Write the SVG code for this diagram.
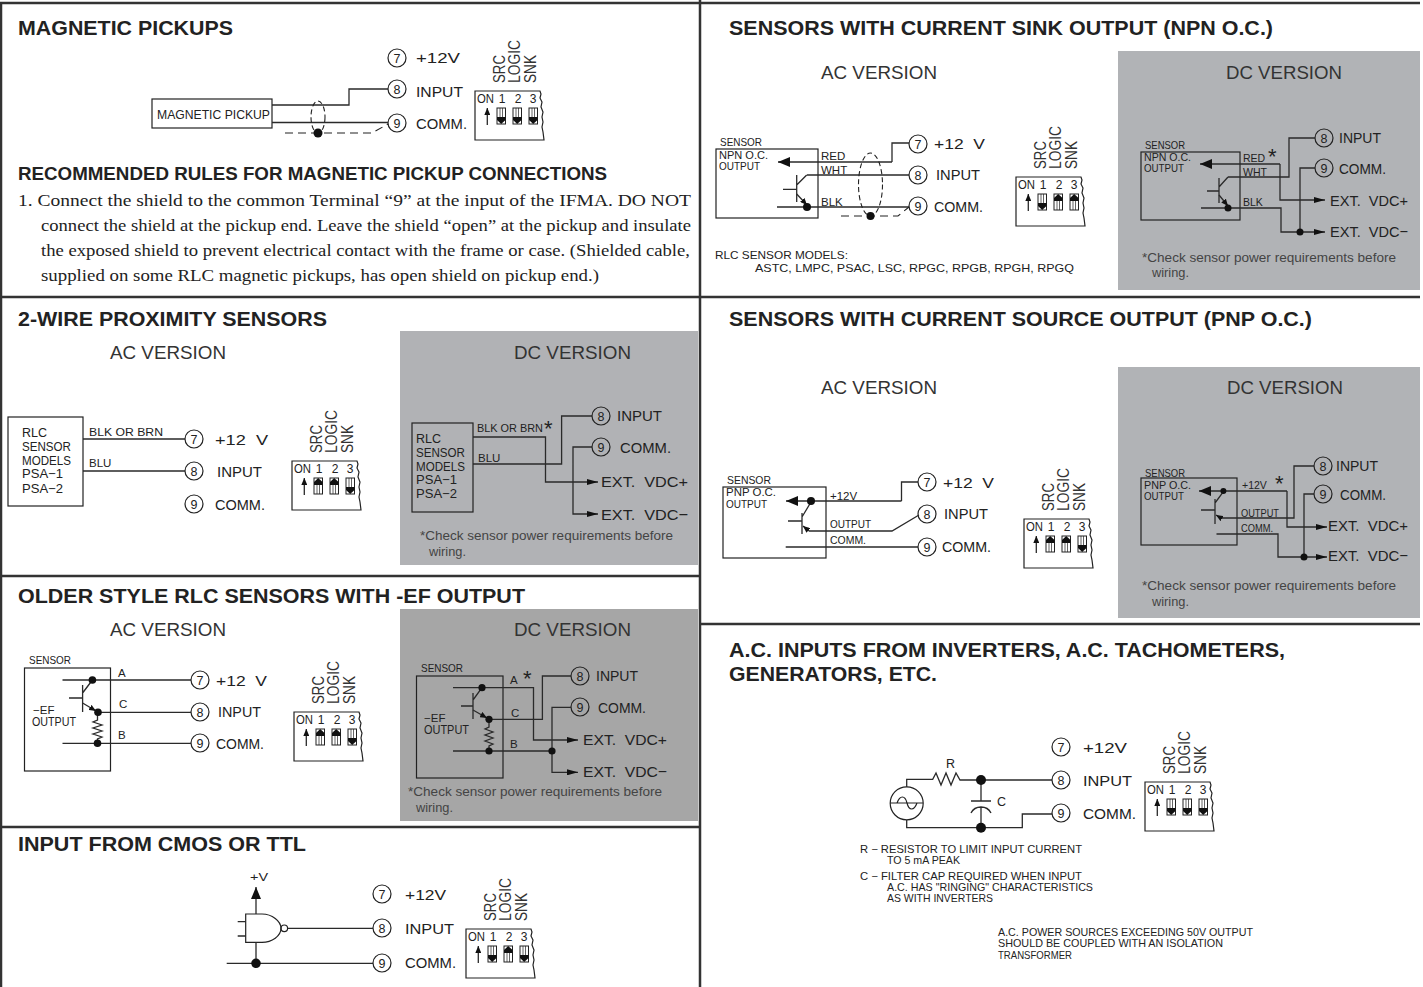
<svg xmlns="http://www.w3.org/2000/svg" width="1423" height="987" viewBox="0 0 1423 987">
<style>
text{font-family:"Liberation Sans",Arial,sans-serif;fill:#222}
.h{font-size:20px;font-weight:bold}
.h2{font-size:17.5px;font-weight:bold}
.b{font-family:"Liberation Serif","Times New Roman",serif;font-size:16.5px}
.v{font-size:18.5px;fill:#333}
.t{font-size:15.5px}
.m{font-size:12.5px}
.s{font-size:11.5px}
.x{font-size:10.5px}
.note{font-size:13px;fill:#444}
.n{font-size:12.5px;text-anchor:middle}
.d{font-size:12px}
.c{font-size:12px;text-anchor:middle}
.r{font-size:16.5px;fill:#333}
.st{font-size:22px}
.line{stroke:#333;stroke-width:2.5;fill:none}
.box{fill:none;stroke:#222;stroke-width:1.2}
.w{fill:none;stroke:#2a2a2a;stroke-width:1.3}
.dash{fill:none;stroke:#222;stroke-width:1.1;stroke-dasharray:8 5}
.dash2{fill:none;stroke:#222;stroke-width:1.1;stroke-dasharray:5 3}
.dot{fill:#111}
.tc{fill:#fff;stroke:#222;stroke-width:1.2}
.gc{fill:#b1b2b5;stroke:#222;stroke-width:1.2}
.gd{fill:#a6a6a6;stroke:#222;stroke-width:1.2}
</style>
<defs>
<marker id="ah" viewBox="0 0 11 6" refX="11" refY="3" markerWidth="11" markerHeight="6" markerUnits="userSpaceOnUse" orient="auto"><path d="M0 0L11 3L0 6Z" fill="#111"/></marker>
<marker id="ahl" viewBox="0 0 12 10" refX="12" refY="5" markerWidth="12" markerHeight="10" markerUnits="userSpaceOnUse" orient="auto"><path d="M0 0L12 5L0 10Z" fill="#111"/></marker>
<marker id="ahs" viewBox="0 0 7 6" refX="7" refY="3" markerWidth="7" markerHeight="6" markerUnits="userSpaceOnUse" orient="auto"><path d="M0 0L7 3L0 6Z" fill="#111"/></marker>
<g id="dip">
<path class="box" d="M0 0H65l1 3-1 4 2 4-1 5 2 5-1 5 1 5-1 5 1 5 1 8H0Z"/>
<path class="w" d="M12.3 34V17" marker-end="url(#ahs)"/>
</g>
<g id="sd"><rect width="8.5" height="16" fill="#fff" stroke="#222"/><path d="M3 0V9M5.5 0V9" stroke="#222" stroke-width=".7"/><path d="M0 9H8.5V12L4.2 16L0 12Z" fill="#111"/></g>
<g id="su"><rect width="8.5" height="16" fill="#fff" stroke="#222"/><path d="M3 7V16M5.5 7V16" stroke="#222" stroke-width=".7"/><path d="M4.2 0L8.5 4V7H0V4Z" fill="#111"/></g>
</defs>
<rect width="1423" height="987" fill="#fff"/>
<g id="frame">
<rect x="400" y="331" width="298" height="234" fill="#b1b2b5"/>
<rect x="400" y="609" width="298" height="212" fill="#a6a6a6"/>
<rect x="1118" y="51" width="302" height="239" fill="#b1b3b6"/>
<rect x="1118" y="367" width="302" height="251" fill="#b1b3b6"/>
<path class="line" d="M0 3H1420M1 2V987M700 0V987M0 297H1420M0 576H700M0 827H700M700 624H1420"/>
</g>

<g id="magnetic-pickups">
<text class="h" x="18" y="35" textLength="215" lengthAdjust="spacingAndGlyphs">MAGNETIC PICKUPS</text>
<rect class="box" x="152" y="99" width="120" height="29"/>
<text class="m" x="157" y="119" textLength="113" lengthAdjust="spacingAndGlyphs">MAGNETIC PICKUP</text>
<circle class="tc" cx="397" cy="58" r="9"/><text class="n" x="397" y="62.5">7</text>
<circle class="tc" cx="397" cy="89" r="9"/><text class="n" x="397" y="93.5">8</text>
<circle class="tc" cx="397" cy="123" r="9"/><text class="n" x="397" y="127.5">9</text>
<text class="t" x="416" y="63" textLength="44" lengthAdjust="spacingAndGlyphs">+12V</text>
<text class="t" x="416" y="97" textLength="47" lengthAdjust="spacingAndGlyphs">INPUT</text>
<text class="t" x="416" y="129" textLength="51" lengthAdjust="spacingAndGlyphs">COMM.</text>
<text class="h2" x="18" y="180" textLength="589" lengthAdjust="spacingAndGlyphs">RECOMMENDED RULES FOR MAGNETIC PICKUP CONNECTIONS</text>
<text class="b" x="18" y="206" textLength="673" lengthAdjust="spacingAndGlyphs">1. Connect the shield to the common Terminal “9” at the input of the IFMA. DO NOT</text>
<text class="b" x="41" y="231" textLength="650" lengthAdjust="spacingAndGlyphs">connect the shield at the pickup end. Leave the shield “open” at the pickup and insulate</text>
<text class="b" x="41" y="256" textLength="649" lengthAdjust="spacingAndGlyphs">the exposed shield to prevent electrical contact with the frame or case. (Shielded cable,</text>
<text class="b" x="41" y="281" textLength="558" lengthAdjust="spacingAndGlyphs">supplied on some RLC magnetic pickups, has open shield on pickup end.)</text>
</g>
<g id="dip-magnetic" transform="translate(475 91)">
<use href="#dip"/><use href="#sd" x="22" y="17"/><use href="#sd" x="38" y="17"/><use href="#sd" x="54" y="17"/>
<text class="d" x="2" y="12" textLength="17" lengthAdjust="spacingAndGlyphs">ON</text><text class="c" x="27" y="12">1</text><text class="c" x="43" y="12">2</text><text class="c" x="58" y="12">3</text>
<text class="r" transform="translate(30 -8) rotate(-90)" textLength="28" lengthAdjust="spacingAndGlyphs">SRC</text>
<text class="r" transform="translate(45 -8) rotate(-90)" textLength="43" lengthAdjust="spacingAndGlyphs">LOGIC</text>
<text class="r" transform="translate(61 -8) rotate(-90)" textLength="28" lengthAdjust="spacingAndGlyphs">SNK</text>
</g>

<g id="sensors-npn">
<text class="h" x="729" y="35" textLength="544" lengthAdjust="spacingAndGlyphs">SENSORS WITH CURRENT SINK OUTPUT (NPN O.C.)</text>
<text class="v" x="821" y="79" textLength="116" lengthAdjust="spacingAndGlyphs">AC VERSION</text>
<text class="v" x="1226" y="79" textLength="116" lengthAdjust="spacingAndGlyphs">DC VERSION</text>
<text class="s" x="720" y="146" textLength="42" lengthAdjust="spacingAndGlyphs">SENSOR</text>
<rect class="box" x="716" y="149" width="102" height="69"/>
<text class="s" x="719" y="159" textLength="49" lengthAdjust="spacingAndGlyphs">NPN O.C.</text>
<text class="s" x="719" y="169.5" textLength="41" lengthAdjust="spacingAndGlyphs">OUTPUT</text>
<text class="s" x="821" y="160">RED</text><text class="s" x="821" y="174">WHT</text><text class="s" x="821" y="205.5">BLK</text>
<circle class="tc" cx="918" cy="144" r="9"/><text class="n" x="918" y="148.5">7</text>
<circle class="tc" cx="918" cy="175" r="9"/><text class="n" x="918" y="179.5">8</text>
<circle class="tc" cx="918" cy="206" r="9"/><text class="n" x="918" y="210.5">9</text>
<text class="t" x="934" y="149" textLength="51" xml:space="preserve" lengthAdjust="spacingAndGlyphs">+12  V</text>
<text class="t" x="936" y="180" textLength="44" lengthAdjust="spacingAndGlyphs">INPUT</text>
<text class="t" x="934" y="212" textLength="49" lengthAdjust="spacingAndGlyphs">COMM.</text>
<text class="s" x="715" y="259" textLength="133" lengthAdjust="spacingAndGlyphs">RLC SENSOR MODELS:</text>
<text class="s" x="755" y="272" textLength="319" lengthAdjust="spacingAndGlyphs">ASTC, LMPC, PSAC, LSC, RPGC, RPGB, RPGH, RPGQ</text>
<text class="x" x="1145" y="149" textLength="40" lengthAdjust="spacingAndGlyphs">SENSOR</text>
<rect class="box" x="1141" y="152" width="99" height="68"/>
<text class="x" x="1144" y="161" textLength="47" lengthAdjust="spacingAndGlyphs">NPN O.C.</text>
<text class="x" x="1144" y="172" textLength="40" lengthAdjust="spacingAndGlyphs">OUTPUT</text>
<text class="x" x="1243" y="162">RED</text><text class="x" x="1243" y="176">WHT</text><text class="x" x="1243" y="206">BLK</text>
<text class="st" x="1268" y="164">*</text>
<circle class="gc" cx="1324" cy="138" r="9"/><text class="n" x="1324" y="142.5">8</text>
<circle class="gc" cx="1324" cy="168" r="9"/><text class="n" x="1324" y="172.5">9</text>
<text class="t" x="1339" y="143" textLength="42" lengthAdjust="spacingAndGlyphs">INPUT</text>
<text class="t" x="1339" y="174" textLength="47" lengthAdjust="spacingAndGlyphs">COMM.</text>
<text class="t" x="1330" y="206" textLength="78" xml:space="preserve" lengthAdjust="spacingAndGlyphs">EXT.  VDC+</text>
<text class="t" x="1330" y="237" textLength="78" xml:space="preserve" lengthAdjust="spacingAndGlyphs">EXT.  VDC−</text>
<text class="note" x="1142" y="262" textLength="254" lengthAdjust="spacingAndGlyphs">*Check sensor power requirements before</text>
<text class="note" x="1152" y="277" textLength="37" lengthAdjust="spacingAndGlyphs">wiring.</text>
</g>
<g id="dip-npn" transform="translate(1016 177)">
<use href="#dip"/><use href="#sd" x="22" y="17"/><use href="#su" x="38" y="17"/><use href="#su" x="54" y="17"/>
<text class="d" x="2" y="12" textLength="17" lengthAdjust="spacingAndGlyphs">ON</text><text class="c" x="27" y="12">1</text><text class="c" x="43" y="12">2</text><text class="c" x="58" y="12">3</text>
<text class="r" transform="translate(30 -8) rotate(-90)" textLength="28" lengthAdjust="spacingAndGlyphs">SRC</text>
<text class="r" transform="translate(45 -8) rotate(-90)" textLength="43" lengthAdjust="spacingAndGlyphs">LOGIC</text>
<text class="r" transform="translate(61 -8) rotate(-90)" textLength="28" lengthAdjust="spacingAndGlyphs">SNK</text>
</g>

<g id="two-wire">
<text class="h" x="18" y="326" textLength="309" lengthAdjust="spacingAndGlyphs">2-WIRE PROXIMITY SENSORS</text>
<text class="v" x="110" y="359" textLength="116" lengthAdjust="spacingAndGlyphs">AC VERSION</text>
<text class="v" x="514" y="359" textLength="117" lengthAdjust="spacingAndGlyphs">DC VERSION</text>
<rect class="box" x="8" y="417" width="75" height="89"/>
<text class="m" x="22" y="437">RLC</text><text class="m" x="22" y="451" textLength="49" lengthAdjust="spacingAndGlyphs">SENSOR</text><text class="m" x="22" y="465" textLength="49" lengthAdjust="spacingAndGlyphs">MODELS</text><text class="m" x="22" y="478" textLength="41" lengthAdjust="spacingAndGlyphs">PSA−1</text><text class="m" x="22" y="493" textLength="41" lengthAdjust="spacingAndGlyphs">PSA−2</text>
<text class="s" x="89" y="436" textLength="74" lengthAdjust="spacingAndGlyphs">BLK OR BRN</text>
<text class="s" x="89" y="467">BLU</text>
<circle class="tc" cx="194" cy="439" r="9"/><text class="n" x="194" y="443.5">7</text>
<circle class="tc" cx="194" cy="471" r="9"/><text class="n" x="194" y="475.5">8</text>
<circle class="tc" cx="194" cy="504" r="9"/><text class="n" x="194" y="508.5">9</text>
<text class="t" x="215" y="445" textLength="53" xml:space="preserve" lengthAdjust="spacingAndGlyphs">+12  V</text>
<text class="t" x="217" y="477" textLength="45" lengthAdjust="spacingAndGlyphs">INPUT</text>
<text class="t" x="215" y="510" textLength="50" lengthAdjust="spacingAndGlyphs">COMM.</text>
<rect class="box" x="412" y="423" width="61" height="89"/>
<text class="m" x="416" y="443">RLC</text><text class="m" x="416" y="457" textLength="49" lengthAdjust="spacingAndGlyphs">SENSOR</text><text class="m" x="416" y="471" textLength="49" lengthAdjust="spacingAndGlyphs">MODELS</text><text class="m" x="416" y="484" textLength="41" lengthAdjust="spacingAndGlyphs">PSA−1</text><text class="m" x="416" y="498" textLength="41" lengthAdjust="spacingAndGlyphs">PSA−2</text>
<text class="s" x="477" y="432" textLength="66" lengthAdjust="spacingAndGlyphs">BLK OR BRN</text>
<text class="st" x="544" y="436">*</text>
<text class="s" x="478" y="462">BLU</text>
<circle class="gc" cx="601" cy="416" r="9"/><text class="n" x="601" y="420.5">8</text>
<circle class="gc" cx="601" cy="447" r="9"/><text class="n" x="601" y="451.5">9</text>
<text class="t" x="617" y="421" textLength="45" lengthAdjust="spacingAndGlyphs">INPUT</text>
<text class="t" x="620" y="453" textLength="51" lengthAdjust="spacingAndGlyphs">COMM.</text>
<text class="t" x="601" y="487" textLength="87" xml:space="preserve" lengthAdjust="spacingAndGlyphs">EXT.  VDC+</text>
<text class="t" x="601" y="520" textLength="87" xml:space="preserve" lengthAdjust="spacingAndGlyphs">EXT.  VDC−</text>
<text class="note" x="420" y="540" textLength="253" lengthAdjust="spacingAndGlyphs">*Check sensor power requirements before</text>
<text class="note" x="429" y="556" textLength="37" lengthAdjust="spacingAndGlyphs">wiring.</text>
</g>
<g id="dip-two-wire" transform="translate(292 461)">
<use href="#dip"/><use href="#su" x="22" y="17"/><use href="#su" x="38" y="17"/><use href="#sd" x="54" y="17"/>
<text class="d" x="2" y="12" textLength="17" lengthAdjust="spacingAndGlyphs">ON</text><text class="c" x="27" y="12">1</text><text class="c" x="43" y="12">2</text><text class="c" x="58" y="12">3</text>
<text class="r" transform="translate(30 -8) rotate(-90)" textLength="28" lengthAdjust="spacingAndGlyphs">SRC</text>
<text class="r" transform="translate(45 -8) rotate(-90)" textLength="43" lengthAdjust="spacingAndGlyphs">LOGIC</text>
<text class="r" transform="translate(61 -8) rotate(-90)" textLength="28" lengthAdjust="spacingAndGlyphs">SNK</text>
</g>

<g id="sensors-pnp">
<text class="h" x="729" y="326" textLength="583" lengthAdjust="spacingAndGlyphs">SENSORS WITH CURRENT SOURCE OUTPUT (PNP O.C.)</text>
<text class="v" x="821" y="394" textLength="116" lengthAdjust="spacingAndGlyphs">AC VERSION</text>
<text class="v" x="1227" y="394" textLength="116" lengthAdjust="spacingAndGlyphs">DC VERSION</text>
<text class="s" x="727" y="484" textLength="44" lengthAdjust="spacingAndGlyphs">SENSOR</text>
<rect class="box" x="723" y="487" width="103" height="71"/>
<text class="s" x="726" y="496" textLength="50" lengthAdjust="spacingAndGlyphs">PNP O.C.</text>
<text class="s" x="726" y="508" textLength="41" lengthAdjust="spacingAndGlyphs">OUTPUT</text>
<text class="s" x="830" y="500">+12V</text><text class="s" x="830" y="528" textLength="41" lengthAdjust="spacingAndGlyphs">OUTPUT</text><text class="s" x="830" y="544" textLength="36" lengthAdjust="spacingAndGlyphs">COMM.</text>
<circle class="tc" cx="927" cy="482" r="9"/><text class="n" x="927" y="486.5">7</text>
<circle class="tc" cx="927" cy="514" r="9"/><text class="n" x="927" y="518.5">8</text>
<circle class="tc" cx="927" cy="547" r="9"/><text class="n" x="927" y="551.5">9</text>
<text class="t" x="943" y="488" textLength="51" xml:space="preserve" lengthAdjust="spacingAndGlyphs">+12  V</text>
<text class="t" x="944" y="519" textLength="44" lengthAdjust="spacingAndGlyphs">INPUT</text>
<text class="t" x="942" y="552" textLength="49" lengthAdjust="spacingAndGlyphs">COMM.</text>
<text class="x" x="1145" y="477" textLength="40" lengthAdjust="spacingAndGlyphs">SENSOR</text>
<rect class="box" x="1141" y="478" width="96" height="67"/>
<text class="x" x="1144" y="489" textLength="47" lengthAdjust="spacingAndGlyphs">PNP O.C.</text>
<text class="x" x="1144" y="500" textLength="40" lengthAdjust="spacingAndGlyphs">OUTPUT</text>
<text class="x" x="1242" y="489">+12V</text><text class="x" x="1241" y="517" textLength="38" lengthAdjust="spacingAndGlyphs">OUTPUT</text><text class="x" x="1241" y="532" textLength="32" lengthAdjust="spacingAndGlyphs">COMM.</text>
<text class="st" x="1275" y="491">*</text>
<circle class="gc" cx="1323" cy="466" r="9"/><text class="n" x="1323" y="470.5">8</text>
<circle class="gc" cx="1323" cy="494" r="9"/><text class="n" x="1323" y="498.5">9</text>
<text class="t" x="1336" y="471" textLength="42" lengthAdjust="spacingAndGlyphs">INPUT</text>
<text class="t" x="1340" y="500" textLength="46" lengthAdjust="spacingAndGlyphs">COMM.</text>
<text class="t" x="1328" y="531" textLength="80" xml:space="preserve" lengthAdjust="spacingAndGlyphs">EXT.  VDC+</text>
<text class="t" x="1328" y="561" textLength="80" xml:space="preserve" lengthAdjust="spacingAndGlyphs">EXT.  VDC−</text>
<text class="note" x="1142" y="590" textLength="254" lengthAdjust="spacingAndGlyphs">*Check sensor power requirements before</text>
<text class="note" x="1152" y="606" textLength="37" lengthAdjust="spacingAndGlyphs">wiring.</text>
</g>
<g id="dip-pnp" transform="translate(1024 519)">
<use href="#dip"/><use href="#su" x="22" y="17"/><use href="#su" x="38" y="17"/><use href="#sd" x="54" y="17"/>
<text class="d" x="2" y="12" textLength="17" lengthAdjust="spacingAndGlyphs">ON</text><text class="c" x="27" y="12">1</text><text class="c" x="43" y="12">2</text><text class="c" x="58" y="12">3</text>
<text class="r" transform="translate(30 -8) rotate(-90)" textLength="28" lengthAdjust="spacingAndGlyphs">SRC</text>
<text class="r" transform="translate(45 -8) rotate(-90)" textLength="43" lengthAdjust="spacingAndGlyphs">LOGIC</text>
<text class="r" transform="translate(61 -8) rotate(-90)" textLength="28" lengthAdjust="spacingAndGlyphs">SNK</text>
</g>

<g id="older-ef">
<text class="h" x="18" y="603" textLength="507" lengthAdjust="spacingAndGlyphs">OLDER STYLE RLC SENSORS WITH -EF OUTPUT</text>
<text class="v" x="110" y="636" textLength="116" lengthAdjust="spacingAndGlyphs">AC VERSION</text>
<text class="v" x="514" y="636" textLength="117" lengthAdjust="spacingAndGlyphs">DC VERSION</text>
<text class="s" x="29" y="664" textLength="42" lengthAdjust="spacingAndGlyphs">SENSOR</text>
<rect class="box" x="24.5" y="668" width="86" height="103"/>
<text class="s" x="118" y="677">A</text><text class="s" x="119" y="708">C</text><text class="s" x="118" y="739">B</text>
<text class="s" x="33" y="714">−EF</text><text class="m" x="32" y="726" textLength="44" lengthAdjust="spacingAndGlyphs">OUTPUT</text>
<circle class="tc" cx="200" cy="680" r="9"/><text class="n" x="200" y="684.5">7</text>
<circle class="tc" cx="200" cy="712" r="9"/><text class="n" x="200" y="716.5">8</text>
<circle class="tc" cx="200" cy="743" r="9"/><text class="n" x="200" y="747.5">9</text>
<text class="t" x="216" y="686" textLength="51" xml:space="preserve" lengthAdjust="spacingAndGlyphs">+12  V</text>
<text class="t" x="218" y="717" textLength="43" lengthAdjust="spacingAndGlyphs">INPUT</text>
<text class="t" x="216" y="749" textLength="48" lengthAdjust="spacingAndGlyphs">COMM.</text>
<text class="s" x="421" y="672" textLength="42" lengthAdjust="spacingAndGlyphs">SENSOR</text>
<rect class="box" x="416.5" y="676" width="86.5" height="102"/>
<text class="s" x="510" y="684">A</text><text class="s" x="511" y="717">C</text><text class="s" x="510" y="748">B</text>
<text class="st" x="523" y="686">*</text>
<text class="s" x="424" y="722">−EF</text><text class="m" x="424" y="734" textLength="45" lengthAdjust="spacingAndGlyphs">OUTPUT</text>
<circle class="gd" cx="580" cy="676" r="9"/><text class="n" x="580" y="680.5">8</text>
<circle class="gd" cx="580" cy="707" r="9"/><text class="n" x="580" y="711.5">9</text>
<text class="t" x="596" y="681" textLength="42" lengthAdjust="spacingAndGlyphs">INPUT</text>
<text class="t" x="598" y="713" textLength="48" lengthAdjust="spacingAndGlyphs">COMM.</text>
<text class="t" x="583" y="745" textLength="84" xml:space="preserve" lengthAdjust="spacingAndGlyphs">EXT.  VDC+</text>
<text class="t" x="583" y="777" textLength="84" xml:space="preserve" lengthAdjust="spacingAndGlyphs">EXT.  VDC−</text>
<text class="note" x="408" y="796" textLength="254" lengthAdjust="spacingAndGlyphs">*Check sensor power requirements before</text>
<text class="note" x="416" y="812" textLength="37" lengthAdjust="spacingAndGlyphs">wiring.</text>
</g>
<g id="dip-older" transform="translate(294 712)">
<use href="#dip"/><use href="#su" x="22" y="17"/><use href="#su" x="38" y="17"/><use href="#sd" x="54" y="17"/>
<text class="d" x="2" y="12" textLength="17" lengthAdjust="spacingAndGlyphs">ON</text><text class="c" x="27" y="12">1</text><text class="c" x="43" y="12">2</text><text class="c" x="58" y="12">3</text>
<text class="r" transform="translate(30 -8) rotate(-90)" textLength="28" lengthAdjust="spacingAndGlyphs">SRC</text>
<text class="r" transform="translate(45 -8) rotate(-90)" textLength="43" lengthAdjust="spacingAndGlyphs">LOGIC</text>
<text class="r" transform="translate(61 -8) rotate(-90)" textLength="28" lengthAdjust="spacingAndGlyphs">SNK</text>
</g>

<g id="cmos-ttl">
<text class="h" x="18" y="851" textLength="288" lengthAdjust="spacingAndGlyphs">INPUT FROM CMOS OR TTL</text>
<text class="s" x="250" y="881" textLength="18" lengthAdjust="spacingAndGlyphs">+V</text>
<path class="box" d="M245.7 914H262C272 914 281 921 281 928.3C281 936 272 942.3 262 942.3H245.7Z"/>
<circle class="box" cx="284.3" cy="928.3" r="3.3"/>
<circle class="tc" cx="382" cy="894" r="9"/><text class="n" x="382" y="898.5">7</text>
<circle class="tc" cx="382" cy="928" r="9"/><text class="n" x="382" y="932.5">8</text>
<circle class="tc" cx="382" cy="963" r="9"/><text class="n" x="382" y="967.5">9</text>
<text class="t" x="405" y="900" textLength="41" lengthAdjust="spacingAndGlyphs">+12V</text>
<text class="t" x="405" y="934" textLength="49" lengthAdjust="spacingAndGlyphs">INPUT</text>
<text class="t" x="405" y="968" textLength="51" lengthAdjust="spacingAndGlyphs">COMM.</text>
</g>
<g id="dip-cmos" transform="translate(466 929)">
<use href="#dip"/><use href="#sd" x="22" y="17"/><use href="#su" x="38" y="17"/><use href="#sd" x="54" y="17"/>
<text class="d" x="2" y="12" textLength="17" lengthAdjust="spacingAndGlyphs">ON</text><text class="c" x="27" y="12">1</text><text class="c" x="43" y="12">2</text><text class="c" x="58" y="12">3</text>
<text class="r" transform="translate(30 -8) rotate(-90)" textLength="28" lengthAdjust="spacingAndGlyphs">SRC</text>
<text class="r" transform="translate(45 -8) rotate(-90)" textLength="43" lengthAdjust="spacingAndGlyphs">LOGIC</text>
<text class="r" transform="translate(61 -8) rotate(-90)" textLength="28" lengthAdjust="spacingAndGlyphs">SNK</text>
</g>

<g id="ac-inputs">
<text class="h" x="729" y="657" textLength="556" lengthAdjust="spacingAndGlyphs">A.C. INPUTS FROM INVERTERS, A.C. TACHOMETERS,</text>
<text class="h" x="729" y="681" textLength="208" lengthAdjust="spacingAndGlyphs">GENERATORS, ETC.</text>
<text class="m" x="946" y="768">R</text><text class="m" x="997" y="806">C</text>
<circle class="box" cx="906.7" cy="803.3" r="16.5"/>
<path class="box" d="M890 803H923M897 803C900 795 905 795 907 803C909 811 914 811 917 803"/>
<circle class="tc" cx="1061" cy="747" r="9"/><text class="n" x="1061" y="751.5">7</text>
<circle class="tc" cx="1061" cy="780" r="9"/><text class="n" x="1061" y="784.5">8</text>
<circle class="tc" cx="1061" cy="813" r="9"/><text class="n" x="1061" y="817.5">9</text>
<text class="t" x="1083" y="753" textLength="44" lengthAdjust="spacingAndGlyphs">+12V</text>
<text class="t" x="1083" y="786" textLength="49" lengthAdjust="spacingAndGlyphs">INPUT</text>
<text class="t" x="1083" y="819" textLength="53" lengthAdjust="spacingAndGlyphs">COMM.</text>
<text class="x" x="860" y="853" textLength="222" lengthAdjust="spacingAndGlyphs">R − RESISTOR TO LIMIT INPUT CURRENT</text>
<text class="x" x="887" y="864" textLength="73" lengthAdjust="spacingAndGlyphs">TO 5 mA PEAK</text>
<text class="x" x="860" y="880" textLength="222" lengthAdjust="spacingAndGlyphs">C − FILTER CAP REQUIRED WHEN INPUT</text>
<text class="x" x="887" y="891" textLength="206" lengthAdjust="spacingAndGlyphs">A.C. HAS "RINGING" CHARACTERISTICS</text>
<text class="x" x="887" y="902" textLength="106" lengthAdjust="spacingAndGlyphs">AS WITH INVERTERS</text>
<text class="x" x="998" y="936" textLength="255" lengthAdjust="spacingAndGlyphs">A.C. POWER SOURCES EXCEEDING 50V OUTPUT</text>
<text class="x" x="998" y="947" textLength="225" lengthAdjust="spacingAndGlyphs">SHOULD BE COUPLED WITH AN ISOLATION</text>
<text class="x" x="998" y="959" textLength="74" lengthAdjust="spacingAndGlyphs">TRANSFORMER</text>
</g>
<g id="dip-ac" transform="translate(1145 782)">
<use href="#dip"/><use href="#sd" x="22" y="17"/><use href="#sd" x="38" y="17"/><use href="#sd" x="54" y="17"/>
<text class="d" x="2" y="12" textLength="17" lengthAdjust="spacingAndGlyphs">ON</text><text class="c" x="27" y="12">1</text><text class="c" x="43" y="12">2</text><text class="c" x="58" y="12">3</text>
<text class="r" transform="translate(30 -8) rotate(-90)" textLength="28" lengthAdjust="spacingAndGlyphs">SRC</text>
<text class="r" transform="translate(45 -8) rotate(-90)" textLength="43" lengthAdjust="spacingAndGlyphs">LOGIC</text>
<text class="r" transform="translate(61 -8) rotate(-90)" textLength="28" lengthAdjust="spacingAndGlyphs">SNK</text>
</g>

<g id="connectors">
<path class="w" d="M272 105H349V89H388M272 122.5H388"/>
<ellipse class="dash2" cx="318" cy="117" rx="7" ry="16"/>
<path class="dash" d="M285 133H372L388 124"/><circle class="dot" cx="318" cy="133" r="4.5"/>
<path class="w" d="M892 162H778" marker-end="url(#ahl)"/>
<path class="w" d="M892 162V143H909M807 175H909M777 207H909M796.7 175V202M783 189.3H796.7M796.7 185L806.7 175"/>
<path class="w" d="M796.7 194L807 205" marker-end="url(#ahs)"/>
<circle class="dot" cx="807" cy="207" r="4"/>
<ellipse class="dash2" cx="870.5" cy="184.5" rx="12" ry="31.5"/>
<path class="dash" d="M841 216H898L909 207"/><circle class="dot" cx="870.5" cy="216" r="4"/>
<path class="w" d="M1280 164H1200" marker-end="url(#ahl)"/>
<path class="w" d="M1280 164V200H1325" marker-end="url(#ah)"/>
<path class="w" d="M1228 177H1289V138H1315M1219 178V203M1207 191H1219M1219 187L1228 177"/>
<path class="w" d="M1219 195L1228 206" marker-end="url(#ahs)"/>
<path class="w" d="M1201 208H1281V232H1325" marker-end="url(#ah)"/>
<path class="w" d="M1300 232V168H1315"/>
<circle class="dot" cx="1228" cy="208" r="3.5"/><circle class="dot" cx="1300" cy="232" r="3.5"/>
<path class="w" d="M83 439H185M83 471H185"/>
<path class="w" d="M473 437H545.5V482H598" marker-end="url(#ah)"/>
<path class="w" d="M473 464H561.6V416H592M592 447H573V514H598" marker-end="url(#ah)"/>
<path class="w" d="M62.5 680H191M98 712.3H191M62.5 743.3H191M82.6 685V712M69 698H82.6M82.6 693L92.4 680"/>
<path class="w" d="M82.6 703L96 711" marker-end="url(#ahs)"/>
<path class="w" d="M97.5 712V720L93 722L102 725L93 728L102 731L93 734L102 737L97.5 739V743"/>
<circle class="dot" cx="92.4" cy="680" r="3.8"/><circle class="dot" cx="98" cy="712.3" r="3.8"/><circle class="dot" cx="97.5" cy="743.3" r="3.8"/>
<path class="w" d="M453 687.7H533.5V740H578" marker-end="url(#ah)"/>
<path class="w" d="M489 719.3H542.4V676H571M453 751H552"/>
<path class="w" d="M571 707.3H552V772.3H578" marker-end="url(#ah)"/>
<path class="w" d="M473 693V719M461 706H473M473 700L482 687.7"/>
<path class="w" d="M473 710L487 718" marker-end="url(#ahs)"/>
<path class="w" d="M489 719V727L485 729L493 732L485 735L493 738L485 741L493 744L489 746V751"/>
<circle class="dot" cx="482" cy="687.7" r="3.6"/><circle class="dot" cx="489" cy="719.3" r="3.6"/><circle class="dot" cx="489" cy="751" r="3.6"/><circle class="dot" cx="552" cy="751" r="3.6"/>
<path class="w" d="M256 914V887" marker-end="url(#ahl)"/>
<path class="w" d="M237.7 921.7H245.7M237.7 936H245.7M287.7 928.3H373M256 942.3V963M226.7 963.3H373"/>
<circle class="dot" cx="256" cy="963.3" r="4.8"/>
<path class="w" d="M901.5 501H786" marker-end="url(#ahl)"/>
<path class="w" d="M901.5 501V482H918M802 513V534M788 521H802M802 517L811 502M785.7 547H918"/>
<path class="w" d="M809 531L803 526" marker-end="url(#ahs)"/>
<path class="w" d="M809 531H892L919 515"/>
<circle class="dot" cx="811" cy="501" r="4"/>
<path class="w" d="M1287 491H1199" marker-end="url(#ahl)"/>
<path class="w" d="M1287 491V527H1327" marker-end="url(#ah)"/>
<path class="w" d="M1215 499V524M1201 510H1215M1215 503L1223.4 491.7"/>
<path class="w" d="M1221 518H1294V466H1314"/>
<path class="w" d="M1221 518L1216 515" marker-end="url(#ahs)"/>
<path class="w" d="M1216.5 534H1278V557H1327" marker-end="url(#ah)"/>
<path class="w" d="M1304 557V494H1314"/>
<circle class="dot" cx="1223.4" cy="491" r="3"/><circle class="dot" cx="1304" cy="557" r="3.5"/>
<path class="w" d="M906.7 787V779.3H932.7L936 773L941 785L946 773L951 785L956 773L960 780H1052M981 780V801M971 801H991M971 813C973 809 977 807 981 807C985 807 989 809 991 813M981 807V827.7M906.7 820V827.7H1022.3V814H1052"/>
<circle class="dot" cx="981" cy="780" r="5"/><circle class="dot" cx="981" cy="827.7" r="5"/>
</g>
</svg>
